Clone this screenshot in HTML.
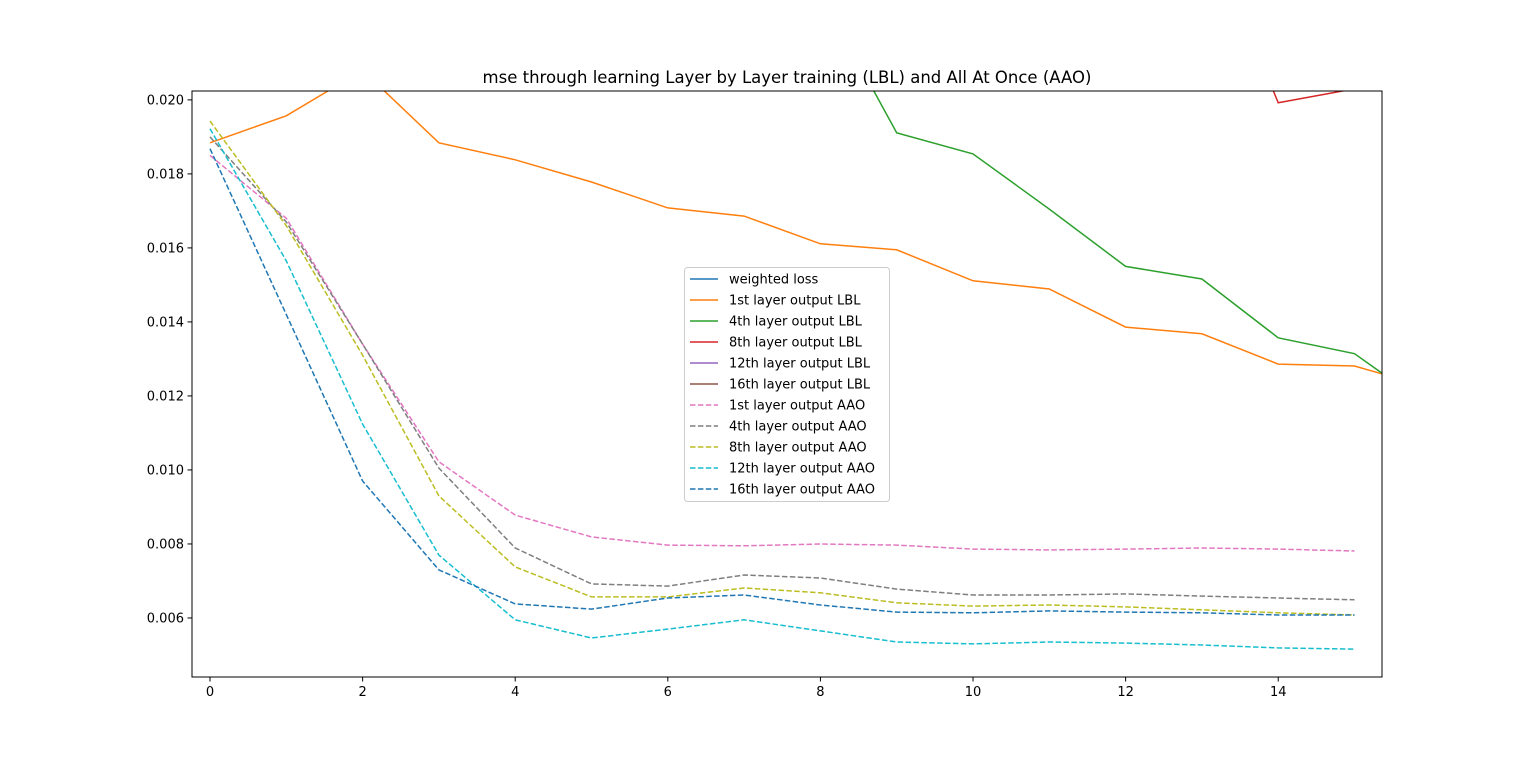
<!DOCTYPE html>
<html><head><meta charset="utf-8"><style>
body{margin:0;background:#fff;}
svg text{font-family:"DejaVu Sans","Liberation Sans",sans-serif;}
</style></head><body>
<svg id="chart" width="1536" height="761" xmlns="http://www.w3.org/2000/svg">
<defs><clipPath id="plotclip"><rect x="192" y="91" width="1190" height="586"/></clipPath></defs>
<rect width="1536" height="761" fill="#fff"/>
<text x="787" y="83" text-anchor="middle" font-size="16.5" fill="#000">mse through learning Layer by Layer training (LBL) and All At Once (AAO)</text>
<g id="plot" clip-path="url(#plotclip)"></g>
<g id="axes"></g>
<g id="legend"></g>
</svg>
<script>
const xTicks=[0,2,4,6,8,10,12,14];
const yTicks=[0.006,0.008,0.010,0.012,0.014,0.016,0.018,0.020];
const yTickLabels=["0.006","0.008","0.010","0.012","0.014","0.016","0.018","0.020"];
const seriesNames=["weighted loss","1st layer output LBL","4th layer output LBL","8th layer output LBL","12th layer output LBL","16th layer output LBL","1st layer output AAO","4th layer output AAO","8th layer output AAO","12th layer output AAO","16th layer output AAO"];
const weightedLoss=[0.05,0.05,0.05,0.05,0.05,0.05,0.05,0.05,0.05,0.05,0.05,0.05,0.05,0.05,0.05,0.05,0.05];
const lbl1=[0.01884,0.01957,0.0208,0.01884,0.01838,0.01778,0.01708,0.01686,0.01611,0.01595,0.01511,0.01489,0.01386,0.01368,0.01286,0.01281,0.01222];
const lbl4=[0.04,0.04,0.04,0.04,0.035,0.03,0.027,0.025,0.02288,0.01911,0.01854,0.01705,0.0155,0.01516,0.01357,0.01314,0.01168];
const lbl8=[0.05,0.05,0.05,0.05,0.045,0.04,0.037,0.034,0.032,0.03,0.029,0.028,0.027,0.025,0.01992,0.0203,0.021];
const lbl12=[0.06,0.06,0.06,0.06,0.06,0.06,0.06,0.06,0.06,0.06,0.06,0.06,0.06,0.06,0.06,0.06,0.06];
const lbl16=[0.07,0.07,0.07,0.07,0.07,0.07,0.07,0.07,0.07,0.07,0.07,0.07,0.07,0.07,0.07,0.07,0.07];
const aao1=[0.0185,0.0168,0.0134,0.01022,0.00878,0.00819,0.00797,0.00795,0.008,0.00797,0.00786,0.00784,0.00786,0.00789,0.00786,0.00781];
const aao4=[0.0190,0.0167,0.0134,0.01005,0.00789,0.00692,0.00686,0.00716,0.00708,0.00678,0.00662,0.00662,0.00665,0.00659,0.00654,0.00649];
const aao8=[0.01943,0.0166,0.0131,0.0093,0.00738,0.00657,0.00657,0.00681,0.00668,0.00641,0.00632,0.00635,0.0063,0.00622,0.00614,0.00608];
const aao12=[0.01922,0.01565,0.01124,0.0077,0.00595,0.00546,0.0057,0.00595,0.00565,0.00535,0.0053,0.00535,0.00532,0.00527,0.00519,0.00516];
const aao16=[0.01868,0.0142,0.0097,0.0073,0.00638,0.00624,0.00654,0.00662,0.00635,0.00616,0.00614,0.00619,0.00616,0.00614,0.00608,0.00608];
const seriesData=[weightedLoss,lbl1,lbl4,lbl8,lbl12,lbl16,aao1,aao4,aao8,aao12,aao16];
const colors=["#1f77b4","#ff7f0e","#2ca02c","#d62728","#9467bd","#8c564b","#e377c2","#7f7f7f","#bcbd22","#17becf","#1f77b4"];
const dashed=[false,false,false,false,false,false,true,true,true,true,true];

const X0=192,X1=1382,Y0=91,Y1=677;
const xmin=-0.236,xmax=15.36,ymin=0.004405,ymax=0.02024;
const sx=v=>X0+(v-xmin)/(xmax-xmin)*(X1-X0);
const sy=v=>Y1-(v-ymin)/(ymax-ymin)*(Y1-Y0);
const NS="http://www.w3.org/2000/svg";
function mk(tag,attrs,parent){const e=document.createElementNS(NS,tag);for(const k in attrs)e.setAttribute(k,attrs[k]);parent.appendChild(e);return e;}
const plot=document.getElementById('plot'),axes=document.getElementById('axes'),legend=document.getElementById('legend');
const slugs=["weighted-loss","lbl-1st","lbl-4th","lbl-8th","lbl-12th","lbl-16th","aao-1st","aao-4th","aao-8th","aao-12th","aao-16th"];
seriesData.forEach((d,i)=>{
  const pts=d.map((v,j)=>sx(j).toFixed(1)+","+sy(v).toFixed(1)).join(" ");
  const p=mk('polyline',{points:pts,fill:"none",stroke:colors[i],"stroke-width":1.5},plot);
  if(dashed[i])p.setAttribute('stroke-dasharray','5.5,2.4');
  
  
});
const frame=mk('rect',{x:X0,y:Y0,width:X1-X0,height:Y1-Y0,fill:"none",stroke:"#000","stroke-width":1},axes);


xTicks.forEach(t=>{
  const x=sx(t);
  mk('line',{x1:x,x2:x,y1:Y1,y2:Y1+4.5,stroke:"#000"},axes);
  const tx=mk('text',{x:x,y:Y1+19,"text-anchor":"middle","font-size":"13"},axes);
  tx.textContent=t;
  
  
});
yTicks.forEach((t,i)=>{
  const y=sy(t);
  mk('line',{x1:X0-4.5,x2:X0,y1:y,y2:y,stroke:"#000"},axes);
  const tx=mk('text',{x:X0-8,y:y+4.5,"text-anchor":"end","font-size":"13"},axes);
  tx.textContent=yTickLabels[i];
  
  
});
const lb=mk('rect',{x:684.5,y:267.5,width:205,height:234,rx:3,fill:"#fff","fill-opacity":0.8,stroke:"#ccc"},legend);


seriesNames.forEach((n,i)=>{
  const y=279+i*21;
  const g=mk('g',{},legend);
  
  
  const l=mk('line',{x1:690,x2:718,y1:y,y2:y,stroke:colors[i],"stroke-width":1.5},g);
  if(dashed[i])l.setAttribute('stroke-dasharray','5.5,2.4');
  const t=mk('text',{x:729,y:y+4.5,"font-size":"13"},g);
  t.textContent=n;
});
</script>
</body></html>
